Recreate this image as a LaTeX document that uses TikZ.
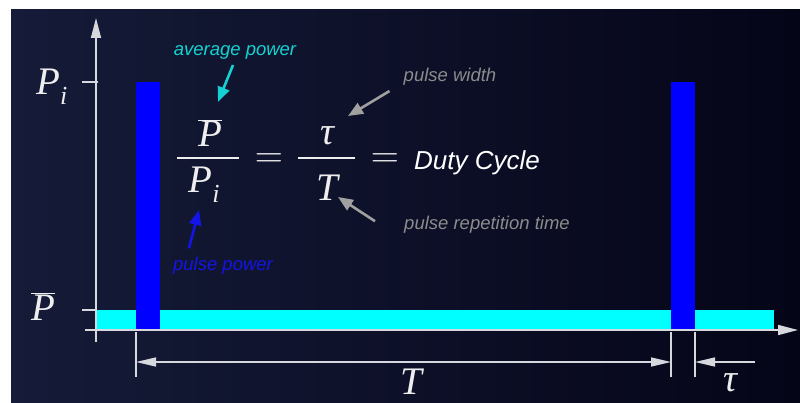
\documentclass[tikz,border=0pt]{standalone}
\usepackage{fix-cm}
\usepackage{fontspec}
\usepackage{xcolor}
\usetikzlibrary{arrows.meta, positioning}

\newfontfamily\notefont{Liberation Sans}
\newfontfamily\varfont{Liberation Serif}
\newcommand{\mvar}[1]{{\varfont\itshape #1}}
\newcommand{\msub}[1]{\raisebox{-10pt}{\fontsize{26}{28}\selectfont\mvar{#1}}}

\definecolor{bgleft}{RGB}{21,27,56}
\definecolor{bgright}{RGB}{5,5,24}
\definecolor{axisgray}{RGB}{215,215,222}
\definecolor{mathwhite}{RGB}{238,238,238}
\definecolor{notegray}{RGB}{140,140,140}
\definecolor{arrowgray}{RGB}{160,160,160}
\definecolor{pulseblue}{RGB}{0,0,255}
\definecolor{avgcyan}{RGB}{0,255,255}
\definecolor{avgtext}{RGB}{20,210,210}
\definecolor{powtext}{RGB}{20,20,230}

\tikzset{
    axisline/.style={draw=axisgray, line width=1.6pt},
    dimline/.style={draw=axisgray, line width=1.4pt},
    axistip/.style={-{Triangle[length=20pt,width=10pt]}},
    dimtip/.style={{Triangle[length=20pt,width=9pt]}-{Triangle[length=20pt,width=9pt]}},
    mathlbl/.style={text=mathwhite, font=\fontsize{39}{41}\selectfont, inner sep=0pt, anchor=base},
    note/.style={font=\notefont\itshape\fontsize{18.5}{20}\selectfont, inner sep=0pt, anchor=base},
    notetip/.style={-{Triangle[length=15pt,width=12pt]}, line width=2.6pt}
}

\begin{document}
\begin{tikzpicture}[x=1pt, y=-1pt]
    \useasboundingbox (0,0) rectangle (800,403);
    \shade[left color=bgleft, right color=bgright] (11,10) rectangle (800,403);

    % average level and the two pulses
    \fill[avgcyan] (95,310) rectangle (774,329);
    \fill[pulseblue] (136,82) rectangle (160,329);
    \fill[pulseblue] (671,82) rectangle (695,329);

    % axes
    \coordinate (ybot) at (96,342);
    \coordinate (ytop) at (96,18);
    \coordinate (xleft) at (85,330);
    \coordinate (xright) at (798,330);
    \draw[axisline, axistip] (ybot) -- (ytop);
    \draw[axisline, axistip] (xleft) -- (xright);
    \draw[axisline] (82,82) -- (98,82);
    \draw[axisline] (82,310) -- (96,310);

    \node[mathlbl, anchor=base west] (Pi) at (36,95) {\mvar{P}\msub{i}};
    \node[mathlbl, anchor=base west] (Pbar) at (31,320) {$\overline{\hbox{\mvar{P}}}$};

    % period and pulse width
    \draw[dimline] (136,332) -- (136,377);
    \draw[dimline] (671,332) -- (671,377);
    \draw[dimline] (695,332) -- (695,377);
    \draw[dimline, dimtip] (136,362) -- (671,362);
    \draw[dimline, -{Triangle[length=20pt,width=9pt]}] (755,362) -- (695,362);
    \node[mathlbl] (Tlbl) at (411,394) {\mvar{T}};
    \node[mathlbl] (taulbl) at (730,391) {\mvar{τ}};

    % duty cycle equation
    \node[mathlbl] (num1) at (210,147) {$\overline{\hbox{\mvar{P}}}$};
    \node[mathlbl] (den1) at (204,193) {\mvar{P}\msub{i}};
    \draw[axisline, draw=mathwhite] (177,158) -- (239,158);
    \node[mathlbl] (eq1) at (269,168) {$=$};
    \node[mathlbl] (num2) at (327,145) {\mvar{τ}};
    \node[mathlbl] (den2) at (327,201) {\mvar{T}};
    \draw[axisline, draw=mathwhite] (298,158) -- (355,158);
    \node[mathlbl] (eq2) at (385,168) {$=$};
    \node[note, anchor=base west, text=white, font=\notefont\itshape\fontsize{26}{28}\selectfont] (duty) at (414,170) {Duty Cycle};

    % annotations
    \node[note, text=avgtext] (avg) at (235,56) {average power};
    \node[note, text=notegray] (pw) at (450,82) {pulse width};
    \node[note, text=notegray] (prt) at (487,230) {pulse repetition time};
    \node[note, text=powtext] (pp) at (223,270) {pulse power};

    \coordinate (avgtip) at (218,102);
    \coordinate (pwtip) at (348,116);
    \coordinate (prttip) at (338,197);
    \coordinate (pptip) at (199,210);

    \draw[notetip, color=avgtext] ([shift={(-2,5)}]avg.south) -- (avgtip);
    \draw[notetip, color=arrowgray] ([shift={(-14,5)}]pw.south west) -- (pwtip);
    \draw[notetip, color=arrowgray] ([shift={(-29,-4)}]prt.west) -- (prttip);
    \draw[notetip, color=powtext] ([shift={(16,-8)}]pp.north west) -- (pptip);
\end{tikzpicture}
\end{document}
